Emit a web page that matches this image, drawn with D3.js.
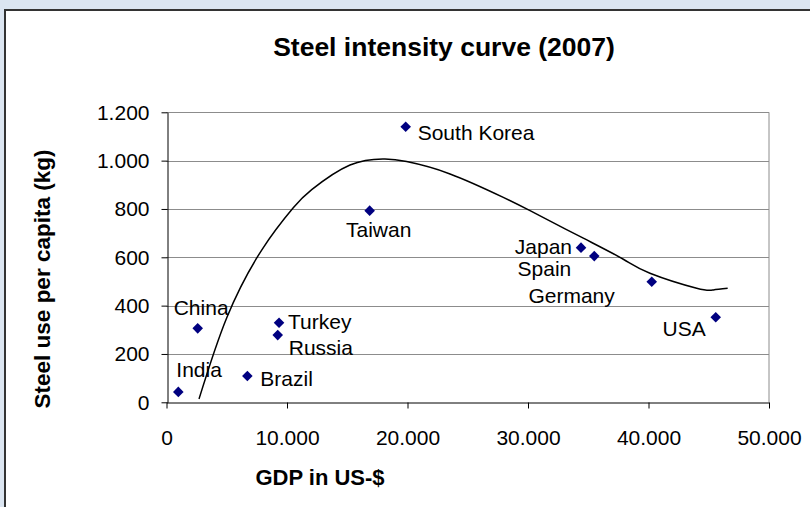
<!DOCTYPE html>
<html>
<head>
<meta charset="utf-8">
<script src="https://cdn.jsdelivr.net/npm/d3@7/dist/d3.min.js"></script>
<style>
  html, body { margin: 0; padding: 0; background: #dbe5f1; }
  svg { display: block; }
  text { font-family: "Liberation Sans", Arial, sans-serif; fill: #000; }
</style>
</head>
<body>
<svg id="chart" width="810" height="507"></svg>
<script>
// ---- data ----
const countries = ["India", "China", "Brazil", "Turkey", "Russia", "Taiwan", "South Korea", "Japan", "Spain", "Germany", "USA"];
const gdp       = [980, 2590, 6710, 9340, 9230, 16860, 19850, 34400, 35500, 40270, 45580];
const steelUse  = [43, 306, 109, 329, 278, 793, 1140, 640, 605, 499, 352];

// trend curve
const trendGdp   = [2700, 5000, 7900, 10520, 12050, 15230, 18130, 19930, 23530, 27950, 30170, 34590, 37910, 40120, 44000, 45380, 46570];
const trendSteel = [14, 350, 630, 805, 880, 982, 1007, 996, 945, 848, 793, 679, 592, 534, 472, 465, 472];

const xTicks = [0, 10000, 20000, 30000, 40000, 50000];
const yTicks = [0, 200, 400, 600, 800, 1000, 1200];

const title = "Steel intensity curve (2007)";
const xTitle = "GDP in US-$";
const yTitle = "Steel use per capita (kg)";

// ---- layout (label offsets relative to marker: dx, dy, anchor) ----
const labelLayout = {
  "India":       [-2, -15, "start"],
  "China":       [-24, -13, "start"],
  "Brazil":      [13, 10, "start"],
  "Turkey":      [9, 6, "start"],
  "Russia":      [11, 20, "start"],
  "Taiwan":      [9, 26, "middle"],
  "South Korea": [12, 13, "start"],
  "Japan":       [-9, 6, "end"],
  "Spain":       [-23, 20, "end"],
  "Germany":     [-37, 21, "end"],
  "USA":         [-10, 19, "end"]
};

const svg = d3.select("#chart");
const W = 810, H = 507;
const plot = { left: 166.5, right: 769, top: 112.3, bottom: 402.3 };

// frame
svg.append("rect").attr("x", 0).attr("y", 0).attr("width", W).attr("height", H).attr("fill", "#dbe5f1");
svg.append("rect").attr("x", 5).attr("y", 10).attr("width", W + 20).attr("height", H + 20)
  .attr("fill", "#fff").attr("stroke", "#333").attr("stroke-width", 2);

const locale = d3.formatLocale({ decimal: ",", thousands: ".", grouping: [3], currency: ["", "$"] });
const fmt = locale.format(",");

const x = d3.scaleLinear().domain([0, 50000]).range([plot.left, plot.right]);
const y = d3.scaleLinear().domain([0, 1200]).range([plot.bottom, plot.top]);

// gridlines
svg.append("g").selectAll("line").data(yTicks.filter(d => d > 0)).join("line")
  .attr("x1", plot.left).attr("x2", plot.right)
  .attr("y1", d => Math.round(y(d)) + 0.5).attr("y2", d => Math.round(y(d)) + 0.5)
  .attr("stroke", "#8c8c8c").attr("stroke-width", 1);
// right border
svg.append("line").attr("x1", plot.right).attr("x2", plot.right)
  .attr("y1", plot.top).attr("y2", plot.bottom).attr("stroke", "#8c8c8c");

// axes
const xAxis = d3.axisBottom(x).tickValues(xTicks).tickFormat(fmt).tickSize(6).tickPadding(22).tickSizeOuter(0);
const gx = svg.append("g").attr("transform", `translate(0,${Math.round(plot.bottom) + 0.5})`).call(xAxis);
gx.select(".domain").attr("stroke", "#000");
gx.selectAll(".tick line").attr("stroke", "#000");
gx.selectAll("text").style("font-size", "21px").attr("font-family", "Liberation Sans, Arial, sans-serif").attr("fill", "#000");

const yAxis = d3.axisLeft(y).tickValues(yTicks).tickFormat(fmt).tickSize(6).tickPadding(12).tickSizeOuter(0);
const gy = svg.append("g").attr("transform", `translate(${Math.round(plot.left) + 0.5},0)`).call(yAxis);
gy.select(".domain").attr("stroke", "#000");
gy.selectAll(".tick line").attr("stroke", "#000");
gy.selectAll("text").style("font-size", "21px").attr("font-family", "Liberation Sans, Arial, sans-serif").attr("fill", "#000");

// trend line
const trend = trendGdp.map((g, i) => [g, trendSteel[i]]);
svg.append("path").datum(trend)
  .attr("d", d3.line().x(d => x(d[0])).y(d => y(d[1])).curve(d3.curveNatural))
  .attr("fill", "none").attr("stroke", "#000").attr("stroke-width", 1.5);

// markers
const pts = countries.map((c, i) => ({ c, g: gdp[i], s: steelUse[i] }));
svg.append("g").selectAll("path").data(pts).join("path")
  .attr("d", d3.symbol().type(d3.symbolSquare).size(56))
  .attr("transform", d => `translate(${x(d.g)},${y(d.s)}) rotate(45)`)
  .attr("fill", "#000080");

// labels
svg.append("g").selectAll("text").data(pts).join("text")
  .attr("x", d => x(d.g) + labelLayout[d.c][0])
  .attr("y", d => y(d.s) + labelLayout[d.c][1])
  .attr("text-anchor", d => labelLayout[d.c][2])
  .style("font-size", "21px")
  .text(d => d.c);

// titles
svg.append("text").attr("x", 444).attr("y", 56).attr("text-anchor", "middle")
  .style("font-size", "26.5px").style("font-weight", "bold").text(title);
svg.append("text").attr("x", 320).attr("y", 485).attr("text-anchor", "middle")
  .style("font-size", "22px").style("font-weight", "bold").text(xTitle);
svg.append("text").attr("transform", "translate(50,279) rotate(-90)").attr("text-anchor", "middle")
  .style("font-size", "22.5px").style("font-weight", "bold").text(yTitle);
</script>
</body>
</html>
